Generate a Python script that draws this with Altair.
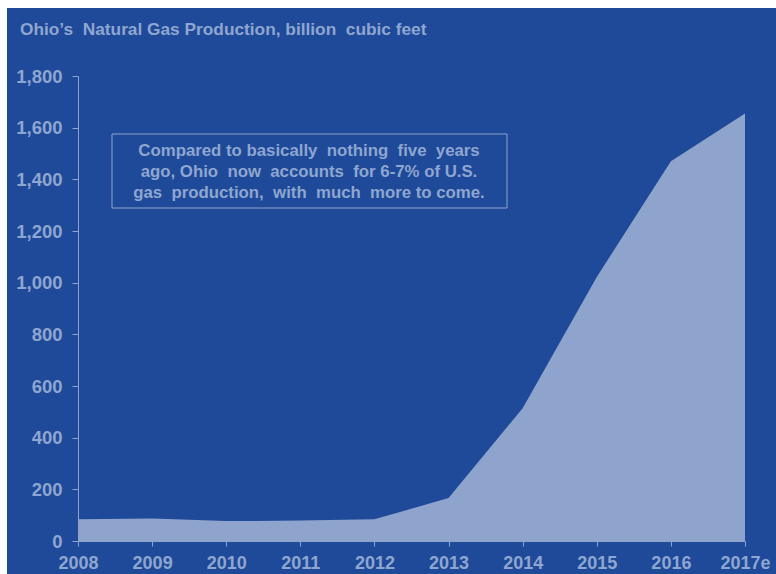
import altair as alt
import pandas as pd

years = ["2008", "2009", "2010", "2011", "2012", "2013", "2014", "2015", "2016", "2017e"]
production = [84, 87, 77, 79, 84, 166, 514, 1022, 1470, 1655]

S2 = " \u00a0"
title_text = "Ohio\u2019s" + S2 + "Natural Gas Production, billion" + S2 + "cubic feet"
note_lines = [
    "Compared to basically" + S2 + "nothing" + S2 + "five" + S2 + "years",
    "ago, Ohio" + S2 + "now" + S2 + "accounts" + S2 + "for 6-7% of U.S.",
    "gas" + S2 + "production," + S2 + "with" + S2 + "much" + S2 + "more to come.",
]

BG = "#1E4A99"
FG = "#8FA4CC"
TXT = "#8FA6D0"

df = pd.DataFrame({"year": years, "value": production})
one = alt.Data(values=[{"a": 1}])

W, H = 667, 465
L, T = 78, 76

bg = alt.Chart(one).mark_rect(color=BG).encode(
    x=alt.value(7 - L), x2=alt.value(776 - L),
    y=alt.value(8 - T), y2=alt.value(574 - T),
)

area = alt.Chart(df).mark_area(color=FG, opacity=1).encode(
    x=alt.X("year:N", sort=years, scale=alt.Scale(type="point", padding=0),
            axis=alt.Axis(title=None, labelAngle=0, tickSize=5, labelPadding=8,
                          domainColor=FG, tickColor=FG, labelColor=TXT,
                          labelFont="Liberation Sans", labelFontWeight="bold",
                          labelFontSize=18, zindex=2)),
    y=alt.Y("value:Q", scale=alt.Scale(domain=[0, 1800], nice=False),
            axis=alt.Axis(title=None, values=list(range(0, 2000, 200)), format=",d",
                          tickSize=6, labelPadding=10, grid=False,
                          domainColor=FG, tickColor=FG, labelColor=TXT,
                          labelFont="Liberation Sans", labelFontWeight="bold",
                          labelFontSize=18.5, zindex=2)),
)

box = alt.Chart(one).mark_rect(fill=BG, fillOpacity=0, stroke=FG, strokeWidth=1).encode(
    x=alt.value(112 - L), x2=alt.value(507 - L),
    y=alt.value(134 - T), y2=alt.value(208 - T),
)

note = alt.Chart(one).mark_text(
    align="center", baseline="alphabetic", font="Liberation Sans", fontWeight="bold",
    fontSize=16.8, color=TXT, lineHeight=21,
).encode(
    x=alt.value(309 - L), y=alt.value(156 - T), text=alt.value(note_lines),
)

title = alt.Chart(one).mark_text(
    align="left", baseline="alphabetic", font="Liberation Sans", fontWeight="bold",
    fontSize=17.3, color=TXT,
).encode(
    x=alt.value(20 - L), y=alt.value(35 - T), text=alt.value(title_text),
)

chart = alt.layer(bg, area, box, note, title).properties(
    width=W, height=H,
    autosize=alt.AutoSizeParams(type="none"),
    padding={"left": L, "top": T, "right": 776 - L - W, "bottom": 574 - T - H},
    background="white",
).configure_view(stroke=None)

chart.save("out.html", embed_options={"renderer": "svg", "actions": False})
